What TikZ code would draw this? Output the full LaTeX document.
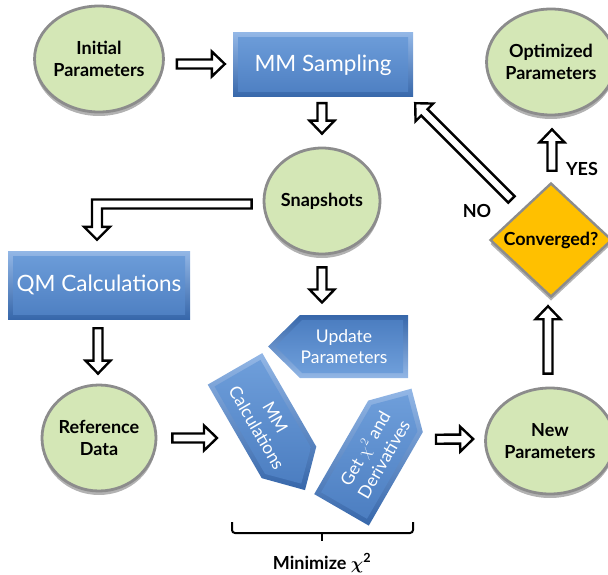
\documentclass[tikz,border=0pt]{standalone}
\usepackage{amsmath}
\usepackage{fontspec}
\setmainfont{Lato}
\usetikzlibrary{calc,shadows,shapes.geometric}
\definecolor{cgreen}{HTML}{D4E7B6}
\definecolor{cgray}{HTML}{8C8C8C}
\definecolor{cgold}{HTML}{FFC000}
\definecolor{bA}{HTML}{93B7E6}
\definecolor{bB}{HTML}{3767AA}
\definecolor{bC}{HTML}{6E9EDA}
\definecolor{bD}{HTML}{4C7EC1}
\tikzset{
  circ/.style={ellipse, draw=cgray, line width=2.8pt, fill=cgreen,
    minimum width=112pt, minimum height=106pt, inner sep=0pt, align=center,
    font=\bfseries\fontsize{18}{22.5}\selectfont,
    drop shadow={shadow xshift=0pt, shadow yshift=-4pt, opacity=0.3, fill=black}},
  bluebox/.style={rectangle, inner sep=0pt, text=white,
    font=\fontsize{22.5}{26}\selectfont, top color=bA, bottom color=bB,
    path picture={\shade[top color=bC, bottom color=bD]
      ([shift={(5pt,-5pt)}]path picture bounding box.north west) rectangle
      ([shift={(-5pt,5pt)}]path picture bounding box.south east);}},
  platetext/.style={text=white, align=center, inner sep=0pt,
    font=\fontsize{17.5}{21.5}\selectfont},
  harr/.style={draw=black, fill=white, line width=2.4pt, line join=miter},
  lbl/.style={font=\bfseries\fontsize{18}{21}\selectfont, inner sep=0pt},
  decision/.style={diamond, draw=cgray, line width=2.4pt, fill=cgold,
    minimum width=122pt, minimum height=114pt, inner sep=0pt,
    drop shadow={shadow xshift=0pt, shadow yshift=-4pt, opacity=0.3, fill=black}},
}
% hollow straight arrow from #1 to #2
\newcommand\hollowarrow[2]{%
  \coordinate (hc) at ($(#2)!13pt!(#1)$);
  \draw[harr] ($(#1)!4.5pt!90:(#2)$) -- ($(hc)!4.5pt!90:(#2)$) -- ($(hc)!12.5pt!90:(#2)$)
    -- (#2) -- ($(hc)!12.5pt!-90:(#2)$) -- ($(hc)!4.5pt!-90:(#2)$)
    -- ($(#1)!4.5pt!-90:(#2)$) -- cycle;}
% home-plate shape centred on coordinate #1, rotated #2, shading angle #3
\newcommand\plateshape[3]{%
  \begin{scope}[shift={(#1)}, rotate=#2]
    \shade[top color=bA, bottom color=bB, shading angle=#3]
      (-70,-31.5) -- (38,-31.5) -- (70,0) -- (38,31.5) -- (-70,31.5) -- cycle;
    \shade[top color=bC, bottom color=bD, shading angle=#3]
      (-65,-26.5) -- (36,-26.5) -- (62.5,0) -- (36,26.5) -- (-65,26.5) -- cycle;
  \end{scope}}
\begin{document}
\begin{tikzpicture}[x=1pt,y=-1pt]
\useasboundingbox (0,0) rectangle (608,575);

% circles
\node[circ] (init) at (99,59) {Initial\\Parameters};
\node[circ] (snap) at (322,201) {Snapshots};
\node[circ] (ref) at (99,438) {Reference\\Data};
\node[circ] (newp) at (550,441) {New\\Parameters};
\node[circ] (opt) at (551,62) {Optimized\\Parameters};

% blue boxes
\node[bluebox, minimum width=180pt, minimum height=64pt] (mms) at (323,65) {MM Sampling};
\node[bluebox, minimum width=182pt, minimum height=68pt] (qm) at (99,285) {QM Calculations};

% home plates
\coordinate (updc) at (338,346.5);
\coordinate (mmcc) at (270,429.5);
\coordinate (getc) at (376.5,449.25);
\plateshape{updc}{180}{180}
\plateshape{mmcc}{-60}{0}
\plateshape{getc}{60}{0}
\node[platetext] (upd) at ($(updc)+(6,0)$) {Update\\Parameters};
\begin{scope}[shift={(mmcc)}, rotate=-60]
  \node[platetext, transform shape] (mmc) at (-8,0) {MM\\Calculations};
\end{scope}
\begin{scope}[shift={(getc)}, rotate=60]
  \node[platetext, transform shape] (getchi) at (-5,0) {Get $\chi^{2}$ and\\Derivatives};
\end{scope}

% decision
\node[decision] (conv) at (551,240) {};
\node[lbl] (convt) at (conv) {Converged?};

% arrows
\hollowarrow{$(init.east)+(12,5)$}{$(mms.west)+(-8,-1)$}
\hollowarrow{$(mms.south)+(-1,6)$}{$(snap.north)+(0,-13)$}
\hollowarrow{$(snap.south)+(0,12)$}{$(updc)+(-16,-44)$}
\hollowarrow{$(qm.south)+(-1,9)$}{$(ref.north)+(-1,-10)$}
\hollowarrow{$(ref.east)+(15,0)$}{$(mmcc)+(-53,8.5)$}
\hollowarrow{$(getc)+(59.5,-10)$}{$(newp.west)+(-11,-2)$}
\hollowarrow{$(newp.north)+(-2,-13)$}{$(conv.south)+(-3,8)$}
\hollowarrow{$(conv.north)+(1,-11)$}{$(opt.south)+(1,13)$}
\hollowarrow{$(conv.north west)+(-8.5,-11.5)$}{$(mms.south east)+(2,6)$}

% elbow arrow snapshots -> QM
\coordinate (e1) at ($(snap.west)+(-11,3)$);
\coordinate (e2) at ($(qm.north)+(-2,-11)$);
\draw[harr] let \p1=(e1), \p2=(e2) in
  (\x1,\y1+4.5pt) -- (\x2-5pt,\y1+4.5pt) -- (\x2-5pt,\y2+13pt) -- (\x2-13pt,\y2+13pt)
  -- (\x2,\y2) -- (\x2+13pt,\y2+13pt) -- (\x2+5pt,\y2+13pt) -- (\x2+5pt,\y1-4.5pt)
  -- (\x1,\y1-4.5pt) -- cycle;

% labels
\node[lbl] (no) at (477,211) {NO};
\node[lbl] (yes) at (582,169) {YES};

% bracket
\draw[line width=2pt, rounded corners=3pt] (232,522) -- (232,533) -- (413,533) -- (413,522);
\draw[line width=2pt] (322,533) -- (322,541);
\node[lbl] (minz) at (322,563) {Minimize $\boldsymbol{\chi}^{\mathbf{2}}$};
\end{tikzpicture}
\end{document}
